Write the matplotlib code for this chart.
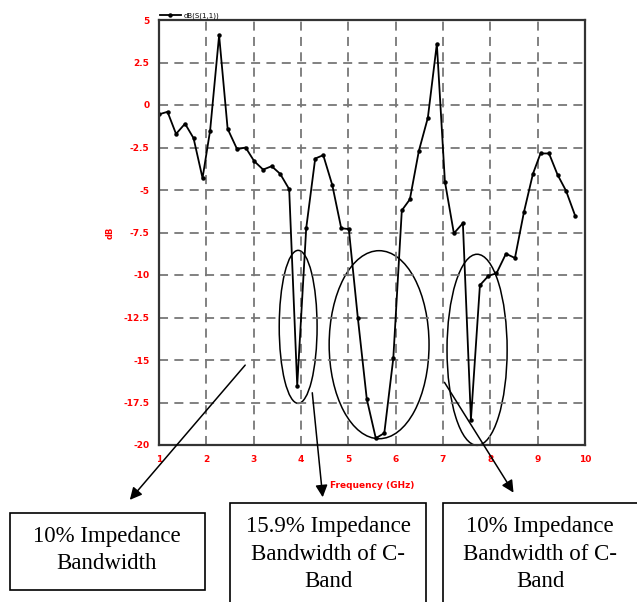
import matplotlib
matplotlib.use('Agg')
import matplotlib.pyplot as plt
from matplotlib.patches import Ellipse, Rectangle

# S11
freq_ghz = [1.00, 1.18, 1.36, 1.55, 1.73, 1.92, 2.08, 2.27, 2.45, 2.65,
            2.83, 3.01, 3.20, 3.38, 3.56, 3.75, 3.92, 4.11, 4.30, 4.47,
            4.66, 4.85, 5.01, 5.20, 5.39, 5.58, 5.76, 5.95, 6.13, 6.30,
            6.49, 6.68, 6.87, 7.04, 7.23, 7.42, 7.59, 7.78, 7.96, 8.13,
            8.33, 8.52, 8.71, 8.90, 9.06, 9.24, 9.42, 9.60, 9.79]
s11_db = [-0.55, -0.4, -1.7, -1.1, -1.95, -4.3, -1.5, 4.1, -1.4, -2.6,
          -2.5, -3.3, -3.8, -3.6, -4.05, -4.95, -16.5, -7.25, -3.15, -2.95,
          -4.7, -7.25, -7.3, -12.5, -17.3, -19.6, -19.3, -14.9, -6.2, -5.55,
          -2.7, -0.75, 3.6, -4.5, -7.55, -6.95, -18.5, -10.6, -10.05, -9.9,
          -8.75, -9.0, -6.3, -4.05, -2.85, -2.85, -4.1, -5.05, -6.5]

x_ticks = [1, 2, 3, 4, 5, 6, 7, 8, 9, 10]
y_ticks = [5, 2.5, 0, -2.5, -5, -7.5, -10, -12.5, -15, -17.5, -20]
y_tick_labels = ['5', '2.5', '0', '-2.5', '-5', '-7.5', '-10', '-12.5', '-15', '-17.5', '-20']

# circled bands: (center x, center y, width, height) in data units
band_ellipses = [(3.94, -13.05, 0.80, 9.0),
                 (5.65, -14.1, 2.11, 11.06),
                 (7.72, -14.4, 1.27, 11.24)]

box_texts = ['10% Impedance\nBandwidth',
             '15.9% Impedance\nBandwidth of C-\nBand',
             '10% Impedance\nBandwidth of C-\nBand']

fig = plt.figure(figsize=(6.37, 6.02), dpi=100)
ax = fig.add_axes([159/637, 1 - 445/602, 426/637, 425/602])

red = '#ff0000'
ax.plot(freq_ghz, s11_db, color='black', lw=1.3, marker='o', ms=2.2,
        label='dB(S(1,1))')
ax.set_xlim(1, 10)
ax.set_ylim(-20, 5)
ax.set_xticks(x_ticks)
ax.set_yticks(y_ticks)
ax.set_yticklabels(y_tick_labels)
ax.tick_params(length=0, colors=red, labelsize=6.5, pad=7)
for lab in ax.get_xticklabels() + ax.get_yticklabels():
    lab.set_fontweight('bold')
ax.grid(True, color='#777777', ls=(0, (5, 3.5)), lw=1.3)
for sp in ax.spines.values():
    sp.set_linewidth(1.6)
    sp.set_color('#333333')

ax.set_xlabel('Frequency (GHz)', color=red, fontsize=6.5, fontweight='bold')
ax.xaxis.set_label_coords(0.5, -0.085)
ax.set_ylabel('dB', color=red, fontsize=6, fontweight='bold')
ax.yaxis.set_label_coords(-0.103, 0.5)

ax.legend(loc='lower left', bbox_to_anchor=(0.0, 1.0), frameon=False,
          fontsize=5, handlelength=3, borderpad=0, borderaxespad=0.1,
          handletextpad=0.5, markerscale=1.0)

for cx, cy, w, h in band_ellipses:
    ax.add_patch(Ellipse((cx, cy), w, h, fill=False, ec='black', lw=1.1,
                         clip_on=False))

# arrows from the plot down to the text boxes (figure pixels)
arrows = [((247, 239), (128, 100)),
          ((312, 212), (323, 102)),
          ((443, 222), (515, 107))]
for start, end in arrows:
    fig.add_artist(matplotlib.patches.FancyArrowPatch(
        start, end, transform=None, arrowstyle='-|>', mutation_scale=18,
        color='black', lw=1.1))

boxes = [(10, 12, 195, 77), (230, -10, 196, 109), (443, -10, 196, 109)]
text_pos = [(107, 52), (328, 48), (540, 48)]
for (bx, by, bw, bh), (tx, ty), txt in zip(boxes, text_pos, box_texts):
    fig.add_artist(Rectangle((bx, by), bw, bh, transform=None, fill=False,
                             ec='black', lw=1.2))
    fig.text(tx / 637, ty / 602, txt, ha='center', va='center',
             family='Liberation Serif', fontsize=16.5, linespacing=1.38)

fig.savefig('out.png', dpi=100)
